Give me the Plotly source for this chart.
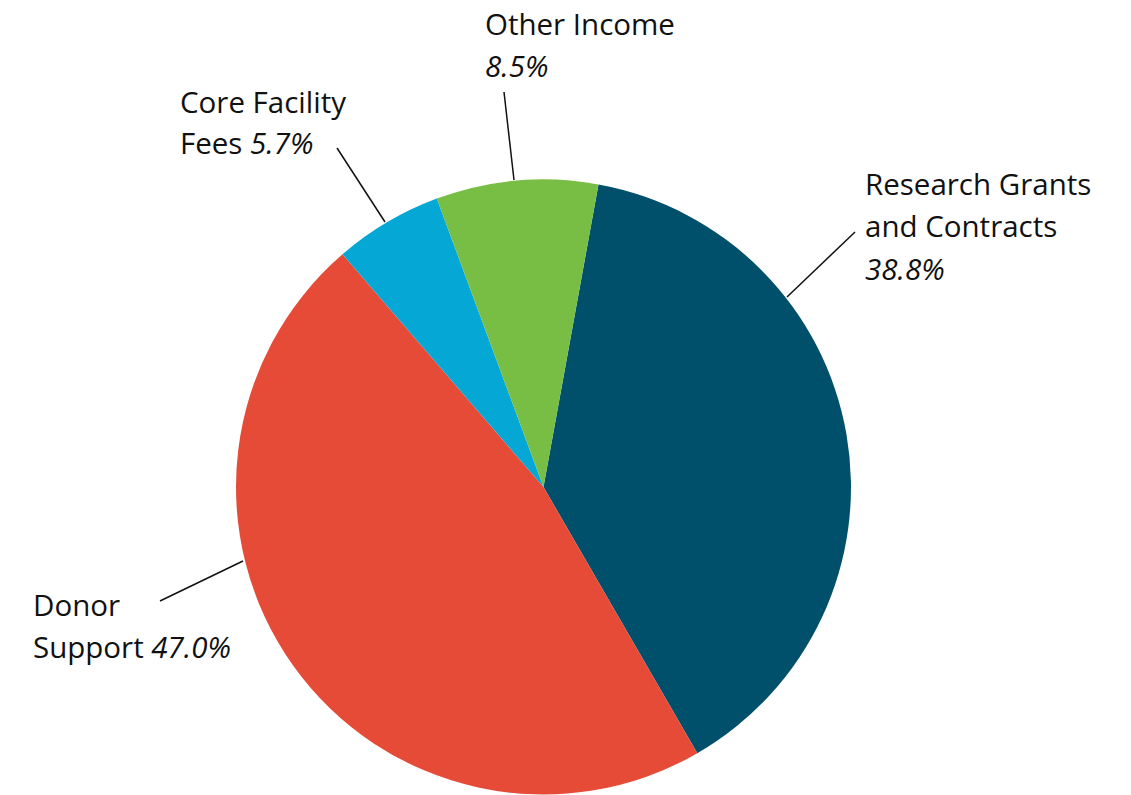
import plotly.graph_objects as go

# Data
categories = ["Research Grants and Contracts", "Donor Support", "Core Facility Fees", "Other Income"]
values = [38.8, 47.0, 5.7, 8.5]
colors = ["#00506B", "#E64B38", "#05A8D4", "#78BE45"]

W, H = 1131, 795
OFF = 8  # page body margin offset
CX, CY, R = 543.5, 487, 307.5

def px(x):
    return (x - OFF) / W

def py(y):
    return 1 - (y - OFF) / H

fig = go.Figure(go.Pie(
    labels=categories,
    values=values,
    marker=dict(colors=colors, line=dict(width=0)),
    sort=False,
    direction="clockwise",
    rotation=10.3,
    textinfo="none",
    hoverinfo="label+percent",
    domain=dict(x=[px(CX - R), px(CX + R)], y=[py(CY + R), py(CY - R)]),
    showlegend=False,
))

FONT = dict(family="Open Sans, sans-serif", size=29.5, color="#111111")

# label lines: (x_left, y_center, html text)
label_lines = [
    (863, 184, "Research Grants"),
    (863, 226, "and Contracts"),
    (863, 269, "<i>%.1f%%</i>" % values[0]),
    (31, 604, "Donor"),
    (31, 646, "Support <i>%.1f%%</i>" % values[1]),
    (178, 102, "Core Facility"),
    (178, 143, "Fees <i>%.1f%%</i>" % values[2]),
    (483, 24, "Other Income"),
    (483, 66, "<i>%.1f%%</i>" % values[3]),
]
annotations = []
for x, y, t in label_lines:
    annotations.append(dict(
        x=px(x), y=py(y), xref="paper", yref="paper",
        xanchor="left", yanchor="middle", text=t, showarrow=False,
        font=FONT,
    ))

leaders = [
    (787, 297, 855, 232),
    (243, 561, 160, 601),
    (385, 222, 337, 148),
    (514, 180, 504, 92),
]
shapes = []
for x0, y0, x1, y1 in leaders:
    shapes.append(dict(type="line", xref="paper", yref="paper",
                       x0=px(x0), y0=py(y0), x1=px(x1), y1=py(y1),
                       line=dict(color="#111111", width=1.5)))

fig.update_layout(
    width=W, height=H,
    margin=dict(l=0, r=0, t=0, b=0),
    paper_bgcolor="white",
    plot_bgcolor="white",
    annotations=annotations,
    shapes=shapes,
)

fig.write_html("out.html")
